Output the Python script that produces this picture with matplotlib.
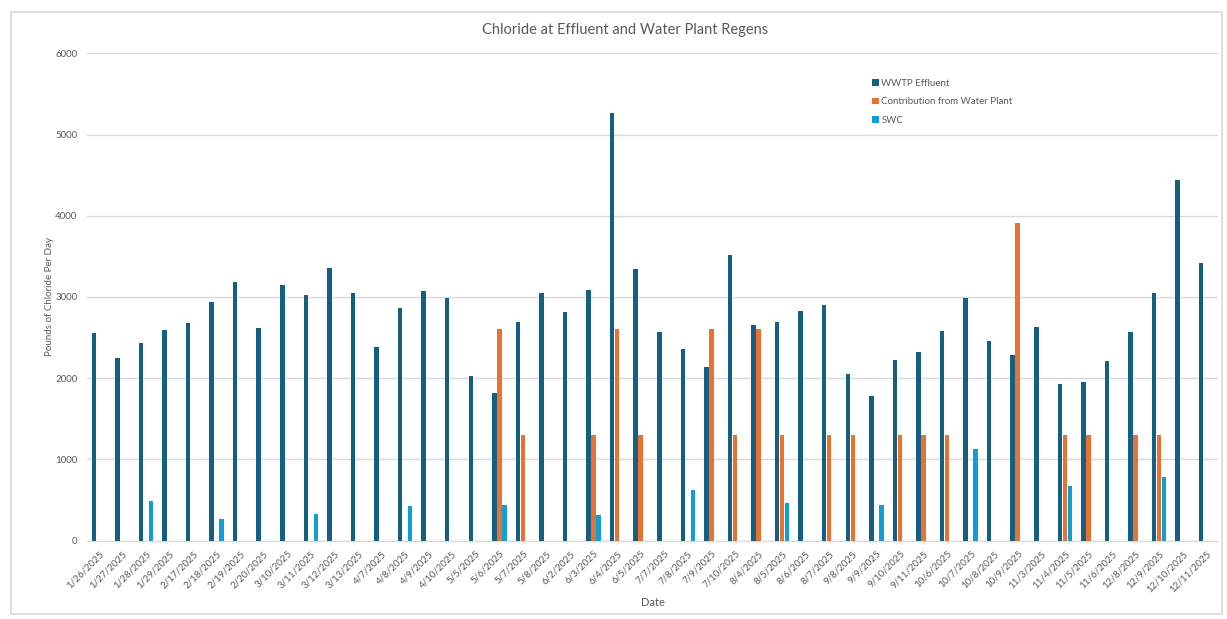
import numpy as np
import matplotlib.pyplot as plt
from matplotlib.patches import Rectangle

# Données
dates = ['1/26/2025', '1/27/2025', '1/28/2025', '1/29/2025', '2/17/2025', '2/18/2025',
         '2/19/2025', '2/20/2025', '3/10/2025', '3/11/2025', '3/12/2025', '3/13/2025',
         '4/7/2025', '4/8/2025', '4/9/2025', '4/10/2025', '5/5/2025', '5/6/2025',
         '5/7/2025', '5/8/2025', '6/2/2025', '6/3/2025', '6/4/2025', '6/5/2025',
         '7/7/2025', '7/8/2025', '7/9/2025', '7/10/2025', '8/4/2025', '8/5/2025',
         '8/6/2025', '8/7/2025', '9/8/2025', '9/9/2025', '9/10/2025', '9/11/2025',
         '10/6/2025', '10/7/2025', '10/8/2025', '10/9/2025', '11/3/2025', '11/4/2025',
         '11/5/2025', '11/6/2025', '12/8/2025', '12/9/2025', '12/10/2025', '12/11/2025']

wwtp_effluent = [2560, 2255, 2430, 2597, 2683, 2942, 3185, 2621, 3152, 3025, 3358, 3053,
                 2387, 2860, 3078, 2984, 2029, 1819, 2695, 3045, 2819, 3086, 5268, 3350,
                 2568, 2354, 2144, 3523, 2658, 2695, 2827, 2905, 2058, 1778, 2230, 2321,
                 2580, 2992, 2457, 2292, 2634, 1934, 1955, 2206, 2572, 3053, 4436, 3424]

water_plant = [0, 0, 0, 0, 0, 0, 0, 0, 0, 0, 0, 0,
               0, 0, 0, 0, 0, 2600, 1300, 0, 0, 1300, 2600, 1300,
               0, 0, 2600, 1300, 2600, 1300, 0, 1300, 1300, 0, 1300, 1300,
               1300, 0, 0, 3905, 0, 1300, 1300, 0, 1300, 1300, 0, 0]

swc = [0, 0, 494, 0, 0, 263, 0, 0, 0, 325, 0, 0,
       0, 432, 0, 0, 0, 444, 0, 0, 0, 317, 0, 0,
       0, 621, 0, 0, 0, 469, 0, 0, 0, 440, 0, 0,
       0, 1123, 0, 0, 0, 679, 0, 0, 0, 782, 0, 0]

plt.rcParams['font.family'] = ['Lato', 'DejaVu Sans']
text_color = '#595959'
grid_color = '#D9D9D9'

fig = plt.figure(figsize=(12.27, 6.19), dpi=100)
ax = fig.add_axes([87 / 1227, 1 - 540.7 / 619, (1218 - 87) / 1227, (540.7 - 53.3) / 619])

# cadre gris autour du graphique
fig.patches.append(Rectangle((11 / 1227, 1 - 614 / 619), (1222 - 11) / 1227, (614 - 12) / 619,
                             transform=fig.transFigure, fill=False, edgecolor=grid_color,
                             linewidth=1.2))

x = np.arange(len(dates))
step = 0.212
width = 0.19
ax.bar(x - step, wwtp_effluent, width, color='#156082', label='WWTP Effluent', zorder=3)
ax.bar(x, water_plant, width, color='#E97132', label='Contribution from Water Plant', zorder=3)
ax.bar(x + step, swc, width, color='#0F9ED5', label='SWC', zorder=3)

ax.set_xlim(-0.5, len(dates) - 0.5)
ax.set_ylim(0, 6000)
ax.set_yticks(range(0, 6001, 1000))
ax.yaxis.grid(True, color=grid_color, linewidth=1, zorder=0)
for side in ['top', 'right', 'left']:
    ax.spines[side].set_visible(False)
ax.spines['bottom'].set_color(grid_color)
ax.tick_params(axis='both', length=0, colors=text_color, labelsize=7)
ax.tick_params(axis='y', pad=7)
ax.set_xticks(x)
ax.set_xticklabels(dates, rotation=45, ha='right', rotation_mode='anchor')
ax.tick_params(axis='x', pad=6)

ax.set_ylabel('Pounds of Chloride Per Day', fontsize=7, color=text_color, labelpad=1)
ax.set_xlabel('Date', fontsize=8, color=text_color)
ax.xaxis.set_label_coords(0.5, -0.115)
fig.text(625 / 1227, 1 - 30 / 619, 'Chloride at Effluent and Water Plant Regens',
         fontsize=10.5, color=text_color, ha='center', va='center')

leg = ax.legend(loc='upper left', bbox_to_anchor=(863 / 1227, 1 - 70 / 619),
                bbox_transform=fig.transFigure, frameon=False, fontsize=7,
                handlelength=0.7, handleheight=0.7, handletextpad=0.3, labelspacing=1.0)
for t in leg.get_texts():
    t.set_color(text_color)

plt.savefig('out.png', dpi=100)
